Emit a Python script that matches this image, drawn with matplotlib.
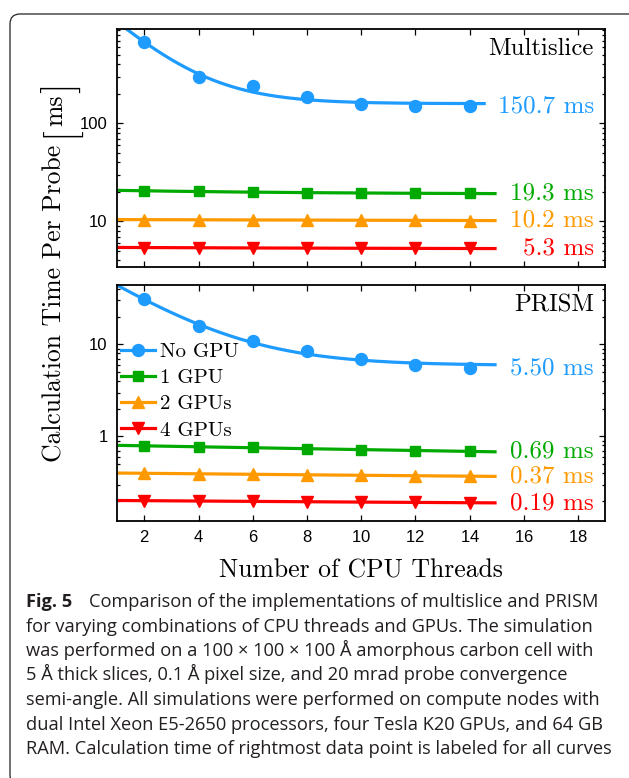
import numpy as np
import matplotlib
matplotlib.use("Agg")
import matplotlib.pyplot as plt
from matplotlib.ticker import FixedLocator, FixedFormatter, LogLocator, NullFormatter
from matplotlib.patches import FancyBboxPatch
from matplotlib.transforms import IdentityTransform, blended_transform_factory

# ---- data -------------------------------------------------------------
threads = [2, 4, 6, 8, 10, 12, 14]
series_names = ["No GPU", "1 GPU", "2 GPUs", "4 GPUs"]

multislice_no_gpu = [680, 299, 240, 187, 157, 151, 150.7]
multislice_1_gpu = [20.5, 20.2, 20.0, 19.6, 19.4, 19.4, 19.3]
multislice_2_gpu = [10.4, 10.4, 10.35, 10.3, 10.3, 10.25, 10.2]
multislice_4_gpu = [5.4, 5.4, 5.35, 5.35, 5.3, 5.3, 5.3]

prism_no_gpu = [30.8, 15.7, 10.9, 8.5, 7.0, 6.0, 5.50]
prism_1_gpu = [0.79, 0.77, 0.76, 0.74, 0.72, 0.70, 0.69]
prism_2_gpu = [0.40, 0.39, 0.39, 0.385, 0.38, 0.375, 0.37]
prism_4_gpu = [0.20, 0.20, 0.198, 0.196, 0.195, 0.193, 0.19]

multislice_labels = ["150.7 ms", "19.3 ms", "10.2 ms", "5.3 ms"]
prism_labels = ["5.50 ms", "0.69 ms", "0.37 ms", "0.19 ms"]

x_ticks = [2, 4, 6, 8, 10, 12, 14, 16, 18]
multislice_yticks = [10, 100]
prism_yticks = [1, 10]

ylabel_parts = ["Calculation Time Per Probe", "[", "ms", "]"]
xlabel_text = "Number of CPU Threads"

caption_head = "Fig. 5"
caption_lines = [
    "Comparison of the implementations of multislice and PRISM",
    "for varying combinations of CPU threads and GPUs. The simulation",
    "was performed on a 100 \u00d7 100 \u00d7 100 \u00c5 amorphous carbon cell with",
    "5 \u00c5 thick slices, 0.1 \u00c5 pixel size, and 20 mrad probe convergence",
    "semi-angle. All simulations were performed on compute nodes with",
    "dual Intel Xeon E5-2650 processors, four Tesla K20 GPUs, and 64 GB",
    "RAM. Calculation time of rightmost data point is labeled for all curves",
]

# ---- style ------------------------------------------------------------
colors = ["#1E9BFF", "#00AA00", "#FF9900", "#FF0000"]
markers = ["o", "s", "^", "v"]
msizes = [8.6, 6.8, 8.6, 8.6]
serif = "cmr10"
plt.rcParams["mathtext.fontset"] = "cm"
plt.rcParams["axes.formatter.use_mathtext"] = True
plt.rcParams["font.family"] = ["Liberation Sans", "DejaVu Sans"]

W, H = 629, 778
fig = plt.figure(figsize=(W / 100, H / 100), dpi=100)
renderer = fig.canvas.get_renderer()


def fit_curve(x, y, xs):
    """Least-squares fit of y = a + b*exp(-c*x), evaluated on xs."""
    x = np.asarray(x, float)
    y = np.asarray(y, float)
    best = None
    for c in np.linspace(0.02, 1.5, 400):
        A = np.column_stack([np.ones_like(x), np.exp(-c * x)])
        coef = np.linalg.lstsq(A, y, rcond=None)[0]
        err = np.sum((A @ coef - y) ** 2)
        if best is None or err < best[0]:
            best = (err, c, coef)
    _, c, (a, b) = best
    return a + b * np.exp(-c * xs)


def px_box(left, top, right, bottom):
    return [left / W, 1 - bottom / H, (right - left) / W, (bottom - top) / H]


ax1 = fig.add_axes(px_box(117.3, 29, 605, 266.7))
ax2 = fig.add_axes(px_box(117.3, 285, 605, 520.7))

panels = [
    (ax1, [multislice_no_gpu, multislice_1_gpu, multislice_2_gpu, multislice_4_gpu],
     multislice_labels, "Multislice", (3.45, 920), multislice_yticks, [14.6, 15, 15, 15]),
    (ax2, [prism_no_gpu, prism_1_gpu, prism_2_gpu, prism_4_gpu],
     prism_labels, "PRISM", (0.122, 44), prism_yticks, [15, 15, 15, 15]),
]

for ax, series, labels, title, ylim, yt, x_end in panels:
    for vals, name, col, mk, ms, lab, xe in zip(series, series_names, colors,
                                                 markers, msizes, labels, x_end):
        xs = np.linspace(1, xe, 200)
        ax.plot(xs, fit_curve(threads, vals, xs), color=col, lw=2.3,
                solid_capstyle="butt", zorder=2)
        ax.plot(threads, vals, linestyle="none", marker=mk, ms=ms, color=col,
                zorder=3)
        # legend proxy: line with marker
        ax.plot([], [], color=col, lw=2.3, marker=mk, ms=ms, label=name)
        value = float(lab.split()[0])
        tr = blended_transform_factory(ax.transAxes, ax.transData)
        ax.text(0.9775, value, lab, transform=tr, ha="right", va="center",
                color=col, fontsize=18, family=serif)
    ax.text(0.9775, 0.915, title, transform=ax.transAxes, ha="right",
            va="center", fontsize=17.8, family=serif, color="black")
    ax.set_yscale("log")
    ax.set_xlim(1, 19)
    ax.set_ylim(*ylim)
    ax.xaxis.set_major_locator(FixedLocator(x_ticks))
    ax.yaxis.set_major_locator(FixedLocator(yt))
    ax.yaxis.set_major_formatter(FixedFormatter([str(v) for v in yt]))
    ax.yaxis.set_minor_locator(LogLocator(base=10, subs=np.arange(2, 10)))
    ax.yaxis.set_minor_formatter(NullFormatter())
    ax.tick_params(which="both", direction="in", top=True, right=True,
                   width=0.9, labelsize=12, colors="black")
    ax.tick_params(which="major", length=4.5)
    ax.tick_params(which="minor", length=2.5)
    ax.tick_params(axis="y", pad=7)
    ax.tick_params(axis="x", pad=6)
    for s in ax.spines.values():
        s.set_linewidth(1.3)

ax1.tick_params(axis="x", labelbottom=False)

leg = ax2.legend(loc="upper left", bbox_to_anchor=(0.008, 0.755),
                 frameon=False, prop={"family": serif, "size": 15},
                 handlelength=1.6, handletextpad=0.25, labelspacing=0.36,
                 borderaxespad=0, borderpad=0)

fig.text(361 / W, 1 - 577 / H, xlabel_text, ha="center",
         va="baseline", fontsize=18.5, family=serif)

# ---- y label: running text with tall brackets around the unit ---------
label_size = 18.5
bracket_size = 28
base_x = 62.0          # baseline column (pixels from left)
y_cursor = H - 462.0   # start of the label (pixels from bottom)
pieces = [
    (ylabel_parts[0], label_size, 0.0, 7.5),
    (ylabel_parts[1], bracket_size, 8.5, 1.0),
    (ylabel_parts[2], label_size, 0.0, 1.0),
    (ylabel_parts[3], bracket_size, 8.5, 0.0),
]
for txt, size, shift, gap_after in pieces:
    t = fig.text((base_x + shift) / W, y_cursor / H, txt, fontsize=size,
                 family=serif, rotation=90, rotation_mode="anchor",
                 ha="left", va="baseline")
    ext = t.get_window_extent(renderer)
    y_cursor += ext.height + gap_after

# ---- caption ----------------------------------------------------------
cap_font = ["Open Sans", "DejaVu Sans"]
cap_color = "#231F20"
probe = fig.text(0, 0, caption_lines[-1], fontsize=10, family=cap_font)
w10 = probe.get_window_extent(renderer).width
probe.remove()
cap_size = 10 * 586 / w10
left_px = 26
baselines = [607 + 24.5 * i for i in range(len(caption_lines))]

head = fig.text(left_px / W, 1 - baselines[0] / H, caption_head,
                fontsize=cap_size, family=cap_font, weight="bold",
                color=cap_color, va="baseline")
hw = head.get_window_extent(renderer).width
fig.text((left_px + hw + 17) / W, 1 - baselines[0] / H, caption_lines[0],
         fontsize=cap_size, family=cap_font, color=cap_color, va="baseline")
for line, yb in zip(caption_lines[1:], baselines[1:]):
    fig.text(left_px / W, 1 - yb / H, line, fontsize=cap_size,
             family=cap_font, color=cap_color, va="baseline")

# ---- rounded frame around figure and caption --------------------------
frame = FancyBboxPatch((10, H - 785), 630, 771,
                       boxstyle="round,pad=0,rounding_size=10",
                       transform=IdentityTransform(), fill=False,
                       edgecolor="#222222", lw=0.9)
fig.patches.append(frame)

fig.savefig("out.png", dpi=100)
